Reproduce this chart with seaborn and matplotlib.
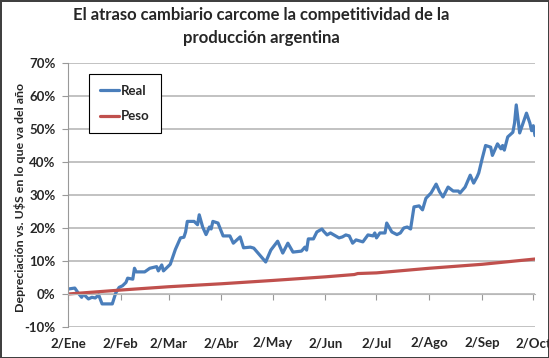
import pandas as pd
import seaborn as sns
import matplotlib.pyplot as plt
from matplotlib.ticker import FuncFormatter

# Real vs US$ (% depreciation year to date)
real_dates = [
    "2015-01-02", "2015-01-06", "2015-01-08", "2015-01-10", "2015-01-11", "2015-01-14",
    "2015-01-16", "2015-01-18", "2015-01-20", "2015-01-22", "2015-01-27", "2015-01-28",
    "2015-01-30", "2015-02-01", "2015-02-03", "2015-02-05", "2015-02-06", "2015-02-09",
    "2015-02-10", "2015-02-11", "2015-02-16", "2015-02-19", "2015-02-23", "2015-02-24",
    "2015-02-26", "2015-02-27", "2015-03-03", "2015-03-06", "2015-03-09", "2015-03-11",
    "2015-03-12", "2015-03-13", "2015-03-17", "2015-03-19", "2015-03-20", "2015-03-22",
    "2015-03-24", "2015-03-26", "2015-03-27", "2015-03-28", "2015-03-31", "2015-04-03",
    "2015-04-07", "2015-04-09", "2015-04-13", "2015-04-15", "2015-04-19", "2015-04-21",
    "2015-04-26", "2015-04-28", "2015-05-01", "2015-05-05", "2015-05-08", "2015-05-11",
    "2015-05-14", "2015-05-19", "2015-05-21", "2015-05-22", "2015-05-23", "2015-05-26",
    "2015-05-28", "2015-05-31", "2015-06-01", "2015-06-03", "2015-06-05", "2015-06-10",
    "2015-06-12", "2015-06-14", "2015-06-16", "2015-06-18", "2015-06-20", "2015-06-24",
    "2015-06-27", "2015-06-30", "2015-07-01", "2015-07-02", "2015-07-04", "2015-07-07",
    "2015-07-08", "2015-07-11", "2015-07-14", "2015-07-16", "2015-07-18", "2015-07-20",
    "2015-07-22", "2015-07-24", "2015-07-27", "2015-07-29", "2015-07-31", "2015-08-03",
    "2015-08-06", "2015-08-08", "2015-08-10", "2015-08-13", "2015-08-16", "2015-08-19",
    "2015-08-20", "2015-08-23", "2015-08-26", "2015-08-28", "2015-08-30", "2015-08-31",
    "2015-09-02", "2015-09-04", "2015-09-07", "2015-09-08", "2015-09-11", "2015-09-13",
    "2015-09-14", "2015-09-15", "2015-09-17", "2015-09-20", "2015-09-21", "2015-09-22",
    "2015-09-24", "2015-09-26", "2015-09-28", "2015-09-30", "2015-10-01", "2015-10-02",
    "2015-10-03",
]
real_values = [
    1.5, 1.8, 0.3, -1.0, 0.0, -1.5,
    -1.0, -1.2, -0.3, -3.0, -3.0, -3.0,
    0.3, 2.0, 2.5, 3.5, 4.8, 4.5,
    7.8, 6.7, 6.7, 7.8, 8.3, 7.0,
    8.8, 7.0, 9.0, 13.5, 17.0, 17.2,
    18.8, 22.0, 22.0, 21.0, 24.0, 20.3,
    18.0, 20.3, 19.7, 22.0, 21.5, 17.6,
    17.6, 15.4, 17.3, 14.0, 14.2, 13.9,
    10.9, 9.7, 13.3, 16.0, 12.4, 15.4,
    12.7, 13.0, 14.2, 13.3, 16.7, 16.7,
    18.8, 19.7, 19.0, 17.9, 18.5, 17.0,
    17.3, 17.9, 17.6, 15.4, 16.4, 15.8,
    17.9, 17.6, 18.5, 17.0, 18.5, 18.5,
    21.5, 18.8, 18.0, 18.5, 20.0, 20.3,
    19.7, 26.4, 26.7, 25.5, 29.0, 30.6,
    33.3, 31.0, 29.4, 32.4, 31.2, 31.2,
    30.6, 32.4, 36.0, 33.6, 35.5, 36.7,
    41.0, 45.0, 44.5, 42.0, 45.5, 44.0,
    45.0, 43.6, 47.6, 49.0, 51.8, 57.3,
    48.8, 51.8, 54.8, 51.8, 49.5, 51.0,
    48.0,
]

# Peso vs US$
peso_dates = [
    "2015-01-02", "2015-02-02", "2015-03-02", "2015-04-02", "2015-05-02",
    "2015-06-02", "2015-06-19", "2015-06-21", "2015-07-02", "2015-08-02",
    "2015-09-02", "2015-10-03",
]
peso_values = [0.0, 1.2, 2.2, 3.1, 4.1, 5.2, 5.9, 6.2, 6.4, 7.8, 9.0, 10.6]

tick_dates = ["2015-01-02", "2015-02-02", "2015-03-02", "2015-04-02", "2015-05-02",
              "2015-06-02", "2015-07-02", "2015-08-02", "2015-09-02", "2015-10-02"]
tick_labels = ["2/Ene", "2/Feb", "2/Mar", "2/Abr", "2/May",
               "2/Jun", "2/Jul", "2/Ago", "2/Sep", "2/Oct"]
y_ticks = [-10, 0, 10, 20, 30, 40, 50, 60, 70]

sns.set_style("white")
plt.rcParams['font.family'] = ['Lato', 'DejaVu Sans']

fig = plt.figure(figsize=(5.49, 3.58), dpi=100)
fig.patch.set_edgecolor('#404040')
fig.patch.set_linewidth(2)
ax = fig.add_axes([68 / 549, 1 - 327 / 358, 467 / 549, 264 / 358])

real = pd.DataFrame({'fecha': pd.to_datetime(real_dates), 'valor': real_values})
peso = pd.DataFrame({'fecha': pd.to_datetime(peso_dates), 'valor': peso_values})

sns.lineplot(data=real, x='fecha', y='valor', ax=ax, color='#4a7ebb', lw=2.3, label='Real')
sns.lineplot(data=peso, x='fecha', y='valor', ax=ax, color='#c0504d', lw=2.3, label='Peso')

ax.set_ylim(-10, 70)
ax.set_yticks(y_ticks)
ax.yaxis.set_major_formatter(FuncFormatter(lambda v, p: f'{v:.0f}%'))
ax.set_xlim(pd.Timestamp("2015-01-02"), pd.Timestamp("2015-10-03"))
ax.set_xticks(pd.to_datetime(tick_dates))
ax.set_xticklabels(tick_labels)

ax.grid(axis='y', color='#b8b8b8', lw=1.2)
ax.set_axisbelow(True)
for s in ['top', 'right']:
    ax.spines[s].set_visible(False)
ax.spines['left'].set_color('#999999')
ax.spines['bottom'].set_color('#b8b8b8')
ax.spines['bottom'].set_position(('data', 0))

ax.tick_params(axis='y', direction='out', length=4, color='#999999', pad=5,
               labelsize=9.5, left=True)
ax.tick_params(axis='x', direction='out', length=4, color='#999999', pad=27,
               labelsize=9.5, bottom=True)
for lab in ax.get_xticklabels() + ax.get_yticklabels():
    lab.set_fontweight('bold')

ax.set_xlabel('')
ax.set_ylabel('Depreciación vs. U$S en lo que va del año', fontsize=8.9, fontweight='bold')
ax.yaxis.set_label_coords(-0.089, 0.49)

leg = ax.legend(loc='upper left', bbox_to_anchor=(0.045, 0.958), borderaxespad=0,
                fancybox=False, edgecolor='black', framealpha=1, fontsize=9.5,
                handlelength=1.5, handletextpad=0.15, labelspacing=1.05,
                borderpad=0.8)
leg.get_frame().set_linewidth(0.8)
for t in leg.get_texts():
    t.set_fontweight('bold')

fig.text(261 / 549, 1 - 7 / 358,
         'El atraso cambiario carcome la competitividad de la\nproducción argentina',
         ha='center', va='top', fontsize=12, fontweight='bold', linespacing=1.55)

fig.savefig('out.png', dpi=100)
